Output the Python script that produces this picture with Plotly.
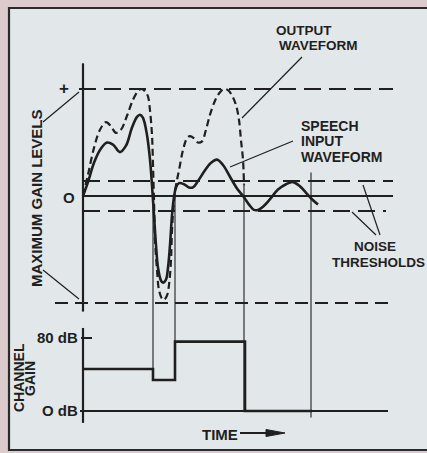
import plotly.graph_objects as go

W, H = 427, 453

# ---- data -------------------------------------------------------------
# speech input waveform: time (arbitrary units) and level (+1 = max gain level)
speech_t = [0.0, 0.5, 1.1, 1.7, 2.4, 3.0, 3.7, 4.3, 4.9, 5.4, 5.7, 6.0, 6.4, 6.7,
            6.9, 7.1, 7.3, 7.5, 7.8, 8.0, 8.3, 8.5, 8.7, 8.9, 9.1, 9.3, 9.6, 10.1,
            10.6, 11.0, 11.5, 12.2, 12.8, 13.4, 14.0, 14.7, 15.4, 16.0, 16.6, 17.1,
            17.5, 18.0, 18.7, 19.5, 20.3, 21.0, 21.7, 22.4, 22.9, 23.5]
speech_v = [0.0, 0.13, 0.31, 0.43, 0.50, 0.48, 0.41, 0.47, 0.64, 0.74, 0.76, 0.73,
            0.57, 0.34, 0.10, -0.18, -0.46, -0.67, -0.79, -0.81, -0.78, -0.67,
            -0.46, -0.18, -0.01, 0.08, 0.12, 0.11, 0.08, 0.08, 0.14, 0.24, 0.31,
            0.34, 0.29, 0.18, 0.07, 0.0, -0.08, -0.13, -0.13, -0.10, -0.03, 0.06,
            0.11, 0.13, 0.09, 0.02, -0.03, -0.08]

# output waveform after gain control
output_t = [0.0, 0.5, 1.1, 1.7, 2.3, 2.8, 3.3, 3.8, 4.4, 5.0, 5.5, 5.8, 6.2, 6.5,
            6.7, 6.9, 7.0, 7.1, 7.2, 7.4, 7.6, 7.9, 8.1, 8.4, 8.6, 8.8, 8.9, 9.1,
            9.3, 9.6, 10.0, 10.4, 10.7, 11.1, 11.5, 11.9, 12.3, 12.7, 13.2, 13.7,
            14.1, 14.5, 14.9, 15.3, 15.6, 15.8, 16.0, 16.1]
output_v = [0.0, 0.20, 0.45, 0.62, 0.69, 0.65, 0.59, 0.62, 0.75, 0.90, 0.98, 1.0,
            0.98, 0.93, 0.80, 0.57, 0.29, -0.04, -0.41, -0.69, -0.88, -0.96, -0.97,
            -0.93, -0.83, -0.60, -0.32, -0.04, 0.10, 0.24, 0.43, 0.54, 0.56, 0.54,
            0.50, 0.51, 0.62, 0.76, 0.89, 0.97, 1.0, 0.99, 0.94, 0.85, 0.71, 0.52,
            0.34, 0.10]

# channel gain steps (dB), held from each time to the next
gain_t = [0.0, 7.0, 9.2, 16.2, 22.9]
gain_db = [46, 34, 76, 0, 0]

max_level = 1.0          # "+" / "-" maximum gain levels
noise_threshold = 0.14   # +/- noise thresholds
gain_ticks = [80, 0]
gain_tick_text = ["80 dB", "O dB"]

# vertical time markers: time, top level, bottom gain (dB)
guide_t = [7.0, 9.2, 16.1, 22.8]
guide_top = [0.0, 0.0, 0.12, 0.22]
guide_bottom = [46, 76, 0, -7]

# ---- scales -----------------------------------------------------------
T_ORIGIN_PX, PX_PER_T = 83, 10.0
LVL_ZERO_PX, PX_PER_LVL = 196, 107.0
DB_ZERO_PX, PX_PER_DB = 411, 0.9125

x_range = [(0 - T_ORIGIN_PX) / PX_PER_T, (W - T_ORIGIN_PX) / PX_PER_T]
lvl_range = [(LVL_ZERO_PX - H) / PX_PER_LVL, LVL_ZERO_PX / PX_PER_LVL]
db_range = [(DB_ZERO_PX - H) / PX_PER_DB, DB_ZERO_PX / PX_PER_DB]


def lvl_to_db(v):
    frac = (v - lvl_range[0]) / (lvl_range[1] - lvl_range[0])
    return db_range[0] + frac * (db_range[1] - db_range[0])


INK = "#1f1f1f"
BG = "#e2e8ea"
EDGE = "#dccbcc"
FONT = "Liberation Sans, Arial, sans-serif"

fig = go.Figure()

# reference levels in the upper panel
t_end = 31.0
fig.add_trace(go.Scatter(x=[-0.4, t_end], y=[max_level, max_level], mode="lines",
                         line=dict(color=INK, width=2, dash="17px,8px")))
fig.add_trace(go.Scatter(x=[-2.8, 30.7], y=[-max_level, -max_level], mode="lines",
                         line=dict(color=INK, width=2, dash="13px,7px")))
fig.add_trace(go.Scatter(x=[0, t_end], y=[noise_threshold, noise_threshold], mode="lines",
                         line=dict(color=INK, width=2, dash="17px,8px")))
fig.add_trace(go.Scatter(x=[0, 30.3], y=[-noise_threshold, -noise_threshold], mode="lines",
                         line=dict(color=INK, width=2, dash="17px,8px")))
fig.add_trace(go.Scatter(x=[0, t_end], y=[0, 0], mode="lines",
                         line=dict(color=INK, width=2)))
# upper vertical axis
fig.add_trace(go.Scatter(x=[0, 0], y=[1.24, -1.08], mode="lines",
                         line=dict(color=INK, width=2.2)))

# waveforms
fig.add_trace(go.Scatter(x=output_t, y=output_v, mode="lines",
                         line=dict(color=INK, width=2.2, dash="7px,4px", shape="spline",
                                   smoothing=1.0)))
fig.add_trace(go.Scatter(x=speech_t, y=speech_v, mode="lines",
                         line=dict(color=INK, width=2.6, shape="spline", smoothing=1.0)))

# vertical time markers (span both panels)
for t, top, bot in zip(guide_t, guide_top, guide_bottom):
    fig.add_trace(go.Scatter(x=[t, t], y=[lvl_to_db(top), bot], mode="lines", yaxis="y2",
                             line=dict(color=INK, width=1.1)))

# lower panel: channel gain
fig.add_trace(go.Scatter(x=[0, 0], y=[91, -13], mode="lines", yaxis="y2",
                         line=dict(color=INK, width=2.2)))
fig.add_trace(go.Scatter(x=[-0.3, 30.5], y=[0, 0], mode="lines", yaxis="y2",
                         line=dict(color=INK, width=2)))
fig.add_trace(go.Scatter(x=[-0.2, 0.9], y=[80, 80], mode="lines", yaxis="y2",
                         line=dict(color=INK, width=2)))
fig.add_trace(go.Scatter(x=gain_t, y=gain_db, mode="lines", yaxis="y2",
                         line=dict(color=INK, width=2.6, shape="hv")))


def px(x, y):
    return x / W, 1 - y / H


annotations = []


def label(text, x, y, size=14, angle=0, anchor="center"):
    fx, fy = px(x, y)
    annotations.append(dict(text=f"<b>{text}</b>", x=fx, y=fy, xref="paper", yref="paper",
                            showarrow=False, textangle=angle, xanchor=anchor,
                            yanchor="middle", align=anchor if anchor != "center" else "center",
                            font=dict(family=FONT, size=size, color=INK)))


label("OUTPUT", 274, 30, 13.5, anchor="left")
label("WAVEFORM", 277, 46, 13.5, anchor="left")
label("SPEECH", 299, 126, 14, anchor="left")
label("INPUT", 299, 141, 14, anchor="left")
label("WAVEFORM", 299, 157, 14, anchor="left")
label("NOISE", 375, 246, 13.5)
label("THRESHOLDS", 378, 262, 13.5)
label("MAXIMUM GAIN LEVELS", 36, 198, 15, angle=-90)
label("CHANNEL", 19, 378, 14, angle=-90)
label("GAIN", 30, 378, 14, angle=-90)
label("+", 64, 88, 17)
label("O", 69, 197, 15)
for v, txt in zip(gain_ticks, gain_tick_text):
    label(txt, 80, DB_ZERO_PX - v * PX_PER_DB - 1, 15, anchor="right")
label("TIME", 220, 434, 15)

shapes = []


def seg(x0, y0, x1, y1, w=1.2):
    a0, b0 = px(x0, y0)
    a1, b1 = px(x1, y1)
    shapes.append(dict(type="line", xref="paper", yref="paper", x0=a0, y0=b0, x1=a1, y1=b1,
                       line=dict(color=INK, width=w)))


# panel frame
fx0, fy0 = px(9, 8)
fx1, fy1 = px(432, 450)
shapes.append(dict(type="rect", xref="paper", yref="paper", x0=fx0, y0=fy1, x1=fx1, y1=fy0,
                   fillcolor=BG, line=dict(color="#2a2a2a", width=2.2), layer="below"))

# leader lines
seg(43, 122, 79, 92)
seg(43, 270, 79, 299)
seg(302, 57, 242, 118)
seg(293, 141, 230, 167)
seg(363, 185, 380, 235)
seg(352, 212, 376, 235)
# TIME arrow
seg(240, 433, 270, 433, 2)
ax0, ay0 = px(266, 429.5)
ax1, ay1 = px(285, 433)
ax2, ay2 = px(266, 436.5)
shapes.append(dict(type="path", xref="paper", yref="paper",
                   path=f"M {ax0} {ay0} L {ax1} {ay1} L {ax2} {ay2} Z",
                   fillcolor=INK, line=dict(color=INK, width=1)))

fig.update_layout(
    width=W, height=H, autosize=False,
    margin=dict(l=0, r=0, t=0, b=0),
    paper_bgcolor=EDGE, plot_bgcolor="rgba(0,0,0,0)",
    showlegend=False,
    xaxis=dict(range=x_range, visible=False, fixedrange=True, domain=[0, 1]),
    yaxis=dict(range=lvl_range, visible=False, fixedrange=True, domain=[0, 1]),
    yaxis2=dict(range=db_range, visible=False, fixedrange=True, overlaying="y"),
    annotations=annotations,
    shapes=shapes,
)

fig.write_html("out.html", config={"displayModeBar": False})
